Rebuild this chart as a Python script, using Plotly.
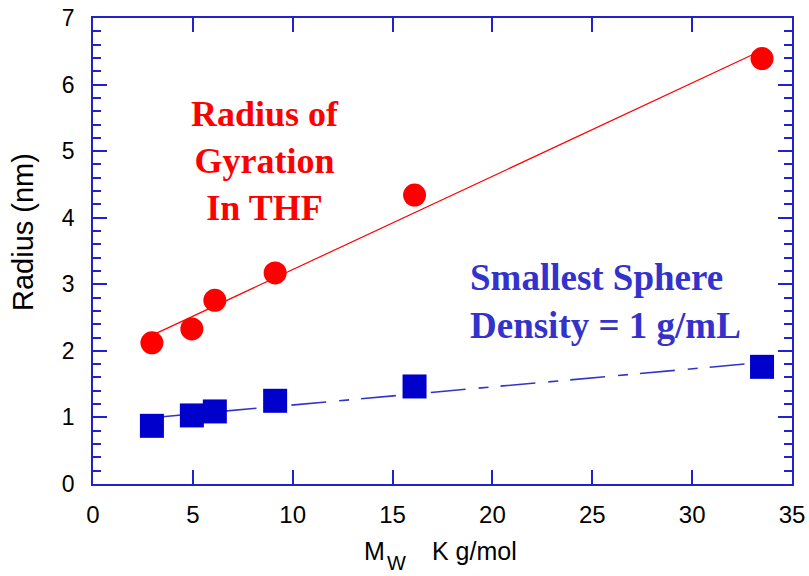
import numpy as np
import plotly.graph_objects as go

# Molecular weight (K g/mol)
mw = [2.95, 4.95, 6.1, 9.12, 16.1, 33.5]
# Radius of gyration in THF (nm)
rg_thf = [2.12, 2.33, 2.76, 3.17, 4.34, 6.39]
# Radius of smallest sphere at density 1 g/mL (nm)
r_sphere = [0.874, 1.03, 1.09, 1.25, 1.465, 1.76]

x_ticks = [0, 5, 10, 15, 20, 25, 30, 35]
y_ticks = [0, 1, 2, 3, 4, 5, 6, 7]

RED = "#ff0000"
BLUE = "#0000cc"
TEXT_BLUE = "#3333cc"
AXIS = "#2222cc"
SANS = "Liberation Sans, Arial, sans-serif"
SERIF = "Liberation Serif, Times New Roman, serif"

W, H = 809, 576
ML, MR, MT, MB = 93, 17, 18, 92


def px_x(px):
    return (px - ML) / (W - ML - MR)


def px_y(py):
    return (H - MB - py) / (H - MT - MB)


x_arr = np.array(mw)
x_fit = np.linspace(x_arr.min(), x_arr.max(), 100)
red_fit = np.polyval(np.polyfit(x_arr, rg_thf, 1), x_fit)
blue_fit = np.polyval(np.polyfit(x_arr, r_sphere, 1), x_fit)

fig = go.Figure()
fig.add_trace(go.Scatter(x=x_fit, y=red_fit, mode="lines",
                         line=dict(color=RED, width=1.2), hoverinfo="skip"))
fig.add_trace(go.Scatter(x=x_fit, y=blue_fit, mode="lines",
                         line=dict(color=TEXT_BLUE, width=1.6, dash="35px,13px,10px,12px"),
                         hoverinfo="skip"))
fig.add_trace(go.Scatter(x=mw, y=rg_thf, mode="markers",
                         marker=dict(symbol="circle", size=23, color=RED, line=dict(width=0))))
fig.add_trace(go.Scatter(x=mw, y=r_sphere, mode="markers",
                         marker=dict(symbol="square", size=24, color=BLUE, line=dict(width=0))))

axis_common = dict(
    showgrid=False, zeroline=False, showline=True, linecolor=AXIS, linewidth=1.5,
    mirror="allticks", ticks="inside", ticklen=14, tickwidth=1.5, tickcolor=AXIS,
    automargin=False,
)

fig.update_xaxes(range=[0, 35], tickvals=x_ticks, ticklabelstandoff=8,
                 tickfont=dict(family=SANS, size=24, color="black"), **axis_common)
fig.update_yaxes(range=[0, 7], tickvals=y_ticks, ticklabelstandoff=12,
                 tickfont=dict(family=SANS, size=23, color="black"),
                 minor=dict(ticks="inside", ticklen=8, tickwidth=1.5, tickcolor=AXIS, dtick=0.2),
                 **axis_common)

fig.add_annotation(text="Radius of<br>Gyration<br>In THF", x=8.63, y=4.85,
                   xref="x", yref="y", showarrow=False, align="center",
                   xanchor="center", yanchor="middle",
                   font=dict(family=SERIF, size=36, color=RED, weight="bold"))
fig.add_annotation(text="Smallest Sphere<br>Density = 1 g/mL", x=18.78, y=2.74,
                   xref="x", yref="y", showarrow=False, align="left",
                   xanchor="left", yanchor="middle",
                   font=dict(family=SERIF, size=37, color=TEXT_BLUE, weight="bold"))

# Axis titles
fig.add_annotation(text="Radius (nm)", x=px_x(23), y=px_y(232), xref="paper", yref="paper",
                   textangle=-90, showarrow=False, xanchor="center", yanchor="middle",
                   font=dict(family=SANS, size=29, color="black"))
fig.add_annotation(text="M", x=px_x(362), y=px_y(551), xref="paper", yref="paper",
                   showarrow=False, xanchor="left", yanchor="middle",
                   font=dict(family=SANS, size=25, color="black"))
fig.add_annotation(text="W", x=px_x(396), y=px_y(563), xref="paper", yref="paper",
                   showarrow=False, xanchor="center", yanchor="middle", borderpad=0,
                   font=dict(family=SANS, size=20, color="black"))
fig.add_annotation(text="K g/mol", x=px_x(430), y=px_y(551), xref="paper", yref="paper",
                   showarrow=False, xanchor="left", yanchor="middle",
                   font=dict(family=SANS, size=25, color="black"))

fig.update_layout(
    width=W, height=H, showlegend=False,
    margin=dict(l=ML, r=MR, t=MT, b=MB),
    paper_bgcolor="white", plot_bgcolor="white",
)

fig.write_html("out.html")
